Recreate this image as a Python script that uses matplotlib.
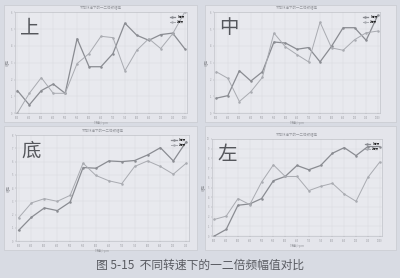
"""Figure 5-15: 1x / 2x frequency amplitude vs. rotation speed at four positions."""
import matplotlib.pyplot as plt
from matplotlib.patches import Rectangle

plt.rcParams["font.family"] = ["Noto Sans CJK SC", "DejaVu Sans"]

SPEEDS_15 = [300, 350, 400, 450, 500, 550, 600, 650, 700, 750, 800, 850, 900, 950, 1000]
SPEEDS_14 = SPEEDS_15[:14]

TOP_1X = [1.34, 0.49, 1.34, 1.73, 1.18, 4.43, 2.76, 2.76, 3.54, 5.35, 4.63, 4.33, 4.67, 4.76, 3.84]
TOP_2X = [0.0, 1.18, 2.11, 1.18, 1.18, 2.95, 3.54, 4.57, 4.49, 2.52, 3.74, 4.43, 3.84, 4.72, 6.0]

MID_1X = [0.89, 1.04, 2.52, 1.91, 2.46, 4.23, 4.17, 3.80, 3.90, 3.05, 3.98, 5.08, 5.08, 4.33, 5.81]
MID_2X = [2.46, 2.07, 0.69, 1.28, 2.13, 4.76, 3.94, 3.48, 3.05, 5.41, 3.88, 3.74, 4.37, 4.78, 4.88]

BOT_1X = [0.8, 1.8, 2.5, 2.3, 2.95, 5.55, 5.5, 6.05, 6.0, 6.08, 6.5, 7.05, 6.05, 7.5]
BOT_2X = [1.75, 2.88, 3.2, 3.0, 3.45, 5.88, 4.95, 4.55, 4.33, 5.63, 6.05, 5.63, 5.05, 5.88]

LEFT_1X = [0.0, 0.68, 3.17, 3.31, 3.86, 5.7, 6.14, 7.27, 6.83, 7.27, 8.53, 9.11, 8.29, 9.22, 9.22]
LEFT_2X = [1.71, 2.05, 3.86, 3.24, 5.56, 7.34, 6.14, 6.14, 4.68, 5.12, 5.43, 4.33, 3.58, 6.04, 7.61]

PANELS = [
    ("上", SPEEDS_15, TOP_1X, TOP_2X, 6),
    ("中", SPEEDS_15, MID_1X, MID_2X, 6),
    ("底", SPEEDS_14, BOT_1X, BOT_2X, 8),
    ("左", SPEEDS_15, LEFT_1X, LEFT_2X, 10),
]
CAPTION = "图 5-15  不同转速下的一二倍频幅值对比"

PAGE_COLOR = "#d8dbe3"
PANEL_COLOR = "#e4e5eb"
AX_COLOR = "#e8e9ee"
DARK = "#8a8c92"
LIGHT = "#a9abb1"

# axes boxes [left, bottom, width, height] and panel frames, in figure fractions
AX_BOXES = [
    [0.0375, 0.593, 0.430, 0.363],
    [0.535, 0.593, 0.415, 0.363],
    [0.040, 0.133, 0.432, 0.381],
    [0.530, 0.151, 0.425, 0.349],
]
FRAMES = [
    [0.010, 0.560, 0.483, 0.422],
    [0.512, 0.560, 0.478, 0.422],
    [0.010, 0.100, 0.483, 0.445],
    [0.512, 0.100, 0.478, 0.445],
]


def draw_panel(ax, label, x, y1, y2, ymax):
    ax.set_facecolor(AX_COLOR)
    ax.plot(x, y1, color=DARK, lw=0.9, marker="o", ms=0.8, label="1倍频")
    ax.plot(x, y2, color=LIGHT, lw=0.7, marker="o", ms=0.8, label="2倍频")
    ax.set_xlim(x[0] - 10, x[-1] + 10)
    ax.set_ylim(0, ymax)
    ax.set_xticks(x)
    ax.set_yticks(range(0, ymax + 1))
    ax.tick_params(labelsize=1.8, length=1, width=0.3, colors="#9a9ca2", pad=1)
    ax.grid(True, color="#d6d8de", lw=0.3)
    for s in ax.spines.values():
        s.set_color("#b8bac0")
        s.set_linewidth(0.4)
    ax.set_title("不同转速下的一二倍频幅值", fontsize=2.5, color="#9a9ca2", pad=2)
    ax.set_xlabel("转速/rpm", fontsize=2.5, color="#9a9ca2", labelpad=1)
    ax.set_ylabel("幅值", fontsize=2.5, color="#9a9ca2", labelpad=1)
    ax.legend(loc="upper right", fontsize=2, frameon=False, handlelength=2)
    ax.text(0.03, 0.95, label, transform=ax.transAxes, fontsize=14,
            color="#55575c", va="top", ha="left",
            family=["Noto Sans CJK SC", "DejaVu Sans"])


def main():
    fig = plt.figure(figsize=(4, 2.78), dpi=100)
    fig.patch.set_facecolor(PAGE_COLOR)
    for fr in FRAMES:
        fig.patches.append(Rectangle((fr[0], fr[1]), fr[2], fr[3], transform=fig.transFigure,
                                     facecolor=PANEL_COLOR, edgecolor="#c8cad0", lw=0.5,
                                     zorder=-1))
    for box, (label, x, y1, y2, ymax) in zip(AX_BOXES, PANELS):
        ax = fig.add_axes(box)
        draw_panel(ax, label, x, y1, y2, ymax)
    fig.text(0.5, 0.045, CAPTION, ha="center", va="center", fontsize=8.5, color="#5a5c62")
    fig.savefig("out.png", dpi=100, facecolor=PAGE_COLOR)


if __name__ == "__main__":
    main()
